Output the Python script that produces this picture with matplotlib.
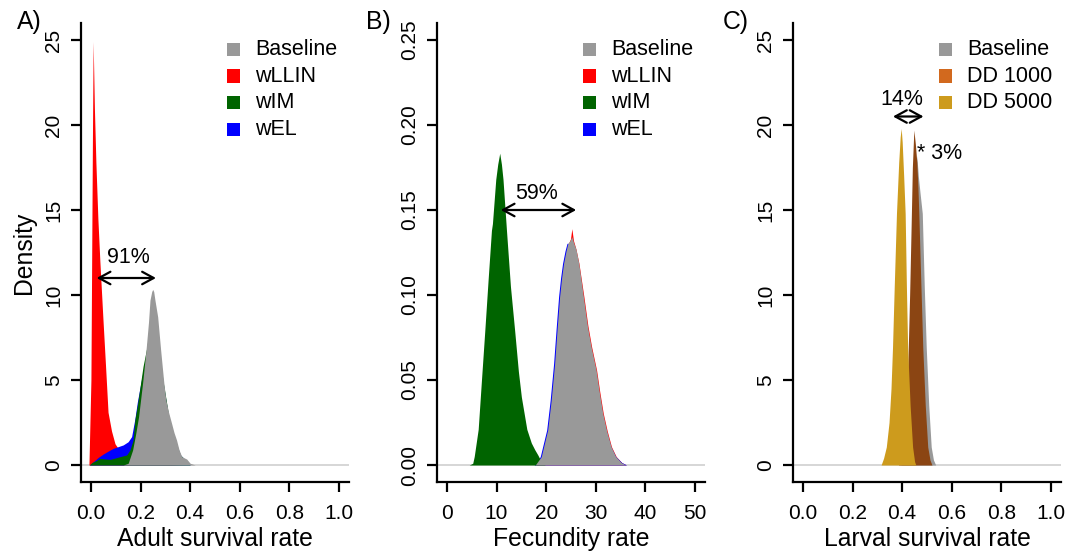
import matplotlib
matplotlib.use("Agg")
import matplotlib.pyplot as plt
from matplotlib.patches import Rectangle

plt.rcParams['font.family'] = ['Liberation Sans', 'DejaVu Sans']

# ---------------- data ----------------
# Panel A: adult survival rate densities
a_llin_x = [-0.008, 0.0, 0.003, 0.006, 0.009, 0.014, 0.020, 0.028, 0.036, 0.048, 0.059, 0.069, 0.083, 0.097, 0.12, 0.15, 0.20, 0.28, 0.38]
a_llin_y = [0, 5, 12, 19, 24.9, 21, 17.8, 14.5, 12.0, 8.7, 5.8, 3.1, 2.0, 1.25, 0.75, 0.45, 0.2, 0.05, 0]
a_el_x = [-0.006, 0.01, 0.03, 0.05, 0.077, 0.09, 0.11, 0.13, 0.15, 0.164, 0.177, 0.187, 0.197, 0.21, 0.225, 0.24, 0.25, 0.27, 0.29, 0.32, 0.36, 0.40]
a_el_y = [0, 0.2, 0.45, 0.65, 0.88, 0.98, 1.08, 1.18, 1.37, 1.67, 2.7, 3.7, 4.5, 5.5, 6.7, 8.3, 8.6, 7.4, 4.9, 2.2, 0.6, 0]
a_im_x = [-0.007, 0.005, 0.02, 0.036, 0.055, 0.077, 0.095, 0.117, 0.144, 0.157, 0.17, 0.177, 0.187, 0.197, 0.21, 0.225, 0.24, 0.255, 0.27, 0.29, 0.32, 0.36, 0.40]
a_im_y = [0, 0.15, 0.25, 0.39, 0.36, 0.33, 0.40, 0.49, 0.59, 0.88, 1.47, 2.65, 3.5, 4.5, 5.8, 6.9, 8.4, 8.7, 7.5, 5.0, 2.3, 0.6, 0]
a_base_x = [0.13, 0.15, 0.168, 0.18, 0.192, 0.208, 0.222, 0.232, 0.238, 0.245, 0.249, 0.253, 0.258, 0.269, 0.281, 0.294, 0.302, 0.313, 0.325, 0.335, 0.345, 0.355, 0.366, 0.376, 0.386, 0.40, 0.42]
a_base_y = [0, 0.1, 0.88, 1.8, 2.84, 4.8, 6.76, 8.4, 9.7, 10.2, 10.33, 10.2, 9.7, 8.72, 6.76, 4.8, 3.82, 3.1, 2.45, 1.9, 1.47, 0.9, 0.49, 0.42, 0.35, 0.1, 0]

# Panel B: fecundity rate densities
b_llin_x = [17.9, 19.1, 20.4, 21.1, 21.8, 22.3, 22.8, 23.2, 23.6, 24.1, 24.5, 24.9, 25.17, 25.5, 26.0, 26.6, 27.6, 28.4, 29.15, 30.15, 30.8, 31.5, 32.3, 33.15, 34.1, 35.2, 36.1]
b_llin_y = [0, 0.0049, 0.0206, 0.038, 0.0598, 0.080, 0.099, 0.110, 0.1186, 0.126, 0.1304, 0.133, 0.139, 0.132, 0.127, 0.1186, 0.099, 0.082, 0.0696, 0.0559, 0.043, 0.0304, 0.020, 0.0108, 0.005, 0.0015, 0]
b_el_x = [17.6, 18.8, 20.1, 20.8, 21.5, 22.0, 22.5, 22.9, 23.3, 23.8, 24.2, 24.6, 25.0, 25.4, 25.9, 26.4, 27.3, 28.1, 28.9, 29.9, 30.6, 31.3, 32.1, 33.0, 34.0, 35.2, 36.2]
b_el_y = [0, 0.0049, 0.0206, 0.038, 0.0598, 0.080, 0.099, 0.110, 0.1186, 0.126, 0.1304, 0.1304, 0.128, 0.126, 0.122, 0.115, 0.097, 0.081, 0.069, 0.055, 0.042, 0.030, 0.020, 0.0108, 0.005, 0.0015, 0]
b_im_x = [4.5, 5.2, 5.5, 6.3, 6.96, 7.63, 8.3, 8.97, 9.17, 9.84, 10.24, 10.64, 10.98, 11.3, 12.0, 12.8, 13.65, 14.4, 15.0, 16.1, 17.0, 17.7, 18.3, 19.0, 19.8]
b_im_y = [0, 0.001, 0.005, 0.021, 0.050, 0.079, 0.109, 0.138, 0.142, 0.168, 0.177, 0.1834, 0.177, 0.168, 0.138, 0.105, 0.079, 0.055, 0.040, 0.021, 0.013, 0.009, 0.006, 0.002, 0]
b_base_x = [17.8, 19.0, 20.3, 21.0, 21.7, 22.2, 22.7, 23.1, 23.5, 24.0, 24.37, 24.8, 25.17, 25.5, 26.0, 26.57, 27.5, 28.3, 29.05, 30.06, 30.7, 31.4, 32.2, 33.07, 34.0, 35.1, 36.0]
b_base_y = [0, 0.0049, 0.0206, 0.038, 0.0598, 0.080, 0.099, 0.110, 0.1186, 0.126, 0.1304, 0.132, 0.1343, 0.131, 0.127, 0.1186, 0.099, 0.082, 0.0696, 0.0559, 0.043, 0.0304, 0.020, 0.0108, 0.005, 0.0015, 0]

# Panel C: larval survival rate densities
c_base_x = [0.395, 0.405, 0.415, 0.425, 0.433, 0.440, 0.447, 0.453, 0.459, 0.465, 0.472, 0.481, 0.489, 0.497, 0.507, 0.517, 0.526, 0.535]
c_base_y = [0, 0.3, 1.06, 3.0, 5.5, 9.0, 13.0, 16.5, 18.2, 17.0, 16.0, 14.8, 10.5, 6.9, 3.5, 1.06, 0.3, 0]
c_dd1000_x = [0.385, 0.395, 0.405, 0.415, 0.423, 0.430, 0.436, 0.441, 0.447, 0.453, 0.459, 0.463, 0.467, 0.475, 0.483, 0.493, 0.503, 0.512, 0.52]
c_dd1000_y = [0, 0.3, 1.06, 3.0, 6.0, 10.0, 14.0, 17.5, 19.7, 18.9, 17.8, 16.5, 14.8, 10.8, 6.9, 3.5, 1.06, 0.3, 0]
c_dd5000_x = [0.315, 0.325, 0.336, 0.347, 0.355, 0.361, 0.368, 0.377, 0.386, 0.392, 0.396, 0.400, 0.406, 0.412, 0.417, 0.422, 0.432, 0.442, 0.450, 0.455]
c_dd5000_y = [0, 0.4, 1.06, 2.5, 4.5, 6.9, 10.5, 14.8, 17.8, 19.3, 19.8, 19.0, 17.0, 14.8, 10.5, 6.9, 3.5, 1.06, 0.2, 0]

# annotations
a_arrow = (0.023, 0.262, 11.0); a_label = (0.15, 12.2, "91%")
b_arrow = (10.84, 26.04, 0.150); b_label = (18.0, 0.160, "59%")
c_arrow = (0.363, 0.486, 20.5); c_label = (0.40, 21.5, "14%")
c_label2 = (0.459, 18.3, "* 3%")

# ticks
a_xticks = [0.0, 0.2, 0.4, 0.6, 0.8, 1.0]
a_yticks = [0, 5, 10, 15, 20, 25]
b_xticks = [0, 10, 20, 30, 40, 50]
b_yticks = [0.00, 0.05, 0.10, 0.15, 0.20, 0.25]

# legends
a_leg = ["Baseline", "wLLIN", "wIM", "wEL"]
c_leg = ["Baseline", "DD 1000", "DD 5000"]

GRAY = "#999999"; RED = "#FF0000"; GREEN = "#006400"; BLUE = "#0000FF"
CHOC = "#D2691E"; CHOC4 = "#8B4513"; GOLD = "#CD9B1D"

# ---------------- figure ----------------
fig = plt.figure(figsize=(10.81, 5.54), dpi=100)
W, H = 1081, 554
bot = 1 - 482 / H
hgt = (482 - 23) / H
wid = 268 / W
axA = fig.add_axes([81 / W, bot, wid, hgt])
axB = fig.add_axes([437 / W, bot, wid, hgt])
axC = fig.add_axes([793 / W, bot, wid, hgt])

TICK_FS = 15
LAB_FS = 17.8
TXT_FS = 15.5


def style(ax, xlim, ylim, xt, yt, xfmt, yfmt, xlabel):
    ax.set_xlim(*xlim)
    ax.set_ylim(*ylim)
    ax.axhline(0, color="#D0D0D0", lw=1.2, zorder=0)
    for s in ("top", "right"):
        ax.spines[s].set_visible(False)
    for s in ("left", "bottom"):
        ax.spines[s].set_linewidth(1.6)
    ax.set_xticks(xt)
    ax.set_xticklabels([xfmt.format(v) for v in xt])
    ax.set_yticks(yt)
    ax.set_yticklabels([yfmt.format(v) for v in yt], rotation=90, va="center")
    ax.tick_params(axis="both", direction="out", length=7, width=1.6, labelsize=TICK_FS)
    ax.tick_params(axis="x", pad=8.5)
    ax.tick_params(axis="y", pad=6)
    ax.set_xlabel(xlabel, fontsize=LAB_FS, labelpad=3.5)


def legend(ax, labels, colors):
    for i, (lab, col) in enumerate(zip(labels, colors)):
        yc = (482 - (49.3 + 26.7 * i)) / 459
        ax.add_patch(Rectangle((146 / 268, yc - 6.65 / 459), 13.3 / 268, 13.3 / 459,
                               transform=ax.transAxes, facecolor=col, edgecolor="none",
                               clip_on=False))
        ax.text(174 / 268, yc, lab, transform=ax.transAxes, fontsize=TXT_FS,
                va="center", ha="left")


def arrow(ax, x0, x1, y):
    ax.annotate("", xy=(x1, y), xytext=(x0, y),
                arrowprops=dict(arrowstyle="<->,head_length=0.55,head_width=0.3",
                                lw=1.6, color="black", shrinkA=0, shrinkB=0,
                                mutation_scale=15))

# Panel A
axA.fill_between(a_llin_x, a_llin_y, color=RED, lw=0)
axA.fill_between(a_el_x, a_el_y, color=BLUE, lw=0)
axA.fill_between(a_im_x, a_im_y, color=GREEN, lw=0)
axA.fill_between(a_base_x, a_base_y, color=GRAY, lw=0)
style(axA, (-0.04, 1.04), (-1, 26), a_xticks, a_yticks, "{:.1f}", "{:d}", "Adult survival rate")
axA.set_ylabel("Density", fontsize=LAB_FS, labelpad=6)
arrow(axA, a_arrow[0], a_arrow[1], a_arrow[2])
axA.text(a_label[0], a_label[1], a_label[2], fontsize=TXT_FS, ha="center", va="center")
legend(axA, a_leg, [GRAY, RED, GREEN, BLUE])

# Panel B
axB.fill_between(b_llin_x, b_llin_y, color=RED, lw=0)
axB.fill_between(b_el_x, b_el_y, color=BLUE, lw=0)
axB.fill_between(b_im_x, b_im_y, color=GREEN, lw=0)
axB.fill_between(b_base_x, b_base_y, color=GRAY, lw=0)
style(axB, (-2, 52), (-0.01, 0.26), b_xticks, b_yticks, "{:d}", "{:.2f}", "Fecundity rate")
arrow(axB, b_arrow[0], b_arrow[1], b_arrow[2])
axB.text(b_label[0], b_label[1], b_label[2], fontsize=TXT_FS, ha="center", va="center")
legend(axB, a_leg, [GRAY, RED, GREEN, BLUE])

# Panel C
axC.fill_between(c_base_x, c_base_y, color=GRAY, lw=0)
axC.fill_between(c_dd1000_x, c_dd1000_y, color=CHOC4, lw=0)
axC.fill_between(c_dd5000_x, c_dd5000_y, color=GOLD, lw=0)
style(axC, (-0.04, 1.04), (-1, 26), a_xticks, a_yticks, "{:.1f}", "{:d}", "Larval survival rate")
arrow(axC, c_arrow[0], c_arrow[1], c_arrow[2])
axC.text(c_label[0], c_label[1], c_label[2], fontsize=TXT_FS, ha="center", va="center")
axC.text(c_label2[0], c_label2[1], c_label2[2], fontsize=TXT_FS, ha="left", va="center")
legend(axC, c_leg, [GRAY, CHOC, GOLD])

# panel letters
for xp, lab in ((17, "A)"), (366, "B)"), (723, "C)")):
    fig.text(xp / W, 1 - 22 / H, lab, fontsize=LAB_FS, ha="left", va="center")

fig.savefig("out.png", dpi=100)
